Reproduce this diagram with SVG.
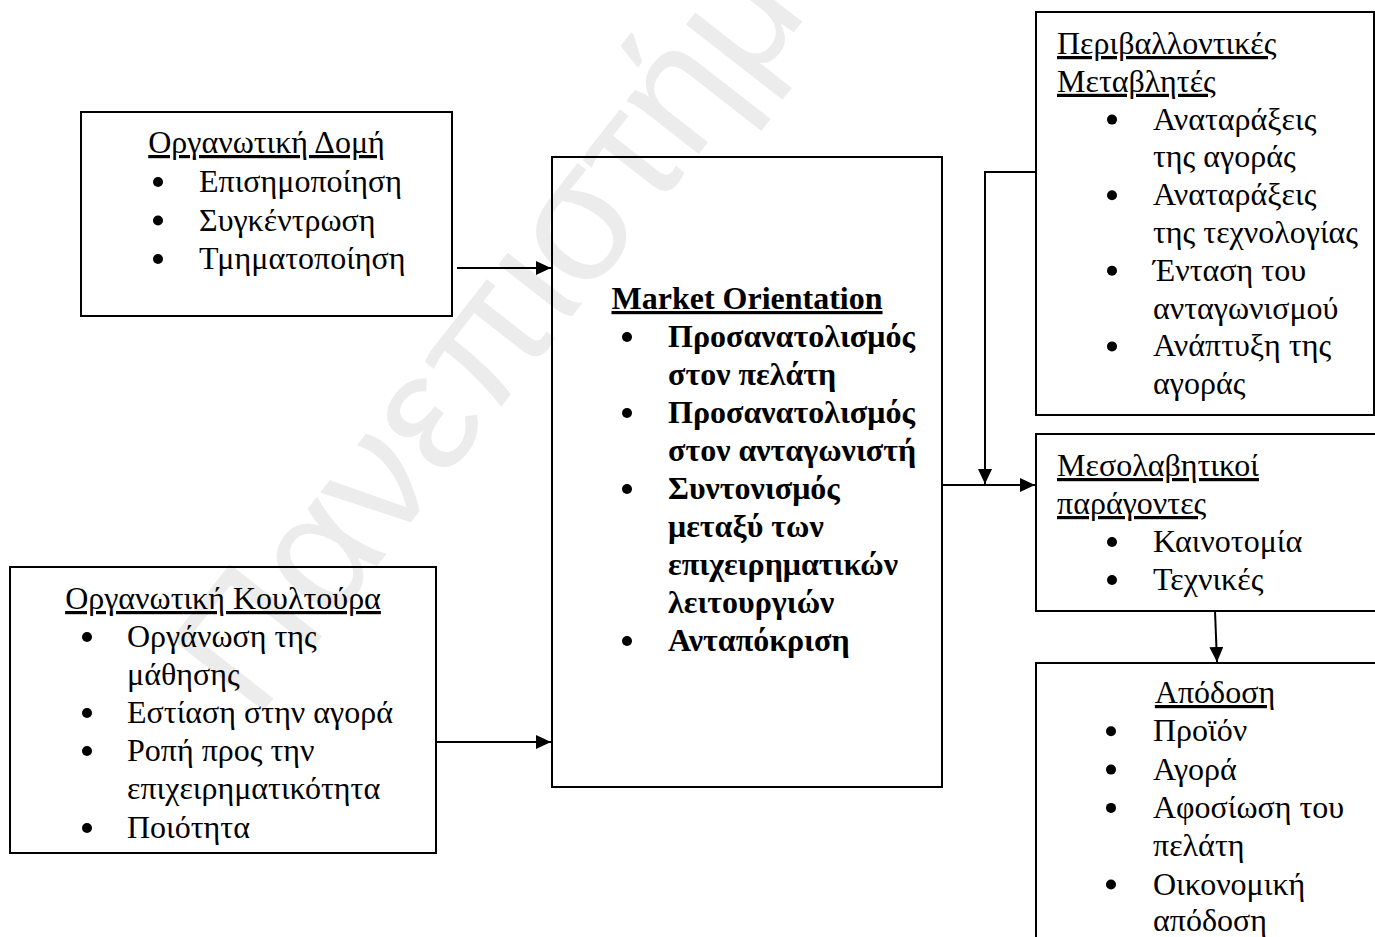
<svg xmlns="http://www.w3.org/2000/svg" width="1375" height="937" viewBox="0 0 1375 937">
<defs>
<marker id="arr" markerUnits="userSpaceOnUse" markerWidth="15" markerHeight="14" refX="15" refY="7" orient="auto">
<path d="M0,0 L15,7 L0,14 Z" fill="#000"/>
</marker>
<style>
.box{fill:none;stroke:#000;stroke-width:2}
.t{font-family:"Liberation Serif","Times New Roman",serif;font-size:32px;fill:#000}
.b{font-weight:bold}
.u{text-decoration:underline}
.m{text-anchor:middle}
.dot{fill:#000}
.c{fill:none;stroke:#000;stroke-width:2}
.wm{font-family:"Liberation Sans",Arial,sans-serif;font-size:170px;fill:#ececec}
</style>
</defs>
<rect width="1375" height="937" fill="#fff"/>
<g id="watermark">
<text class="wm" x="255" y="722" transform="rotate(-52 255 722)">Πανεπιστήμιο</text>
</g>

<g id="org-structure">
<rect class="box" x="81" y="112" width="371" height="204"/>
<text class="t u m" x="266.5" y="153">Οργανωτική Δομή</text>
<circle class="dot" cx="158" cy="182" r="5"/><text class="t" x="199" y="192">Επισημοποίηση</text>
<circle class="dot" cx="158" cy="220.5" r="5"/><text class="t" x="199" y="230.5">Συγκέντρωση</text>
<circle class="dot" cx="158" cy="259" r="5"/><text class="t" x="199" y="269">Τμηματοποίηση</text>
</g>

<g id="org-culture">
<rect class="box" x="10" y="567" width="426" height="286"/>
<text class="t u m" x="223" y="609">Οργανωτική Κουλτούρα</text>
<circle class="dot" cx="87" cy="637" r="5"/><text class="t" x="127" y="647">Οργάνωση της</text>
<text class="t" x="127" y="685">μάθησης</text>
<circle class="dot" cx="87" cy="713" r="5"/><text class="t" x="127" y="723">Εστίαση στην αγορά</text>
<circle class="dot" cx="87" cy="751" r="5"/><text class="t" x="127" y="761">Ροπή προς την</text>
<text class="t" x="127" y="799">επιχειρηματικότητα</text>
<circle class="dot" cx="87" cy="828" r="5"/><text class="t" x="127" y="838">Ποιότητα</text>
</g>

<g id="market-orientation">
<rect class="box" x="552" y="157" width="390" height="630"/>
<text class="t b u m" x="747" y="309">Market Orientation</text>
<circle class="dot" cx="627" cy="337" r="5"/><text class="t b" x="668" y="347">Προσανατολισμός</text>
<text class="t b" x="668" y="385">στον πελάτη</text>
<circle class="dot" cx="627" cy="413" r="5"/><text class="t b" x="668" y="423">Προσανατολισμός</text>
<text class="t b" x="668" y="461">στον ανταγωνιστή</text>
<circle class="dot" cx="627" cy="489" r="5"/><text class="t b" x="668" y="499">Συντονισμός</text>
<text class="t b" x="668" y="537">μεταξύ των</text>
<text class="t b" x="668" y="575">επιχειρηματικών</text>
<text class="t b" x="668" y="613">λειτουργιών</text>
<circle class="dot" cx="627" cy="641" r="5"/><text class="t b" x="668" y="651">Ανταπόκριση</text>
</g>

<g id="environment">
<rect class="box" x="1036" y="12" width="338" height="403"/>
<text class="t u" x="1057" y="54">Περιβαλλοντικές</text>
<text class="t u" x="1057" y="91.8">Μεταβλητές</text>
<circle class="dot" cx="1112" cy="119.6" r="5"/><text class="t" x="1153" y="129.6">Αναταράξεις</text>
<text class="t" x="1153" y="167.4">της αγοράς</text>
<circle class="dot" cx="1112" cy="195.2" r="5"/><text class="t" x="1153" y="205.2">Αναταράξεις</text>
<text class="t" x="1153" y="243">της τεχνολογίας</text>
<circle class="dot" cx="1112" cy="270.8" r="5"/><text class="t" x="1153" y="280.8">Ένταση του</text>
<text class="t" x="1153" y="318.6">ανταγωνισμού</text>
<circle class="dot" cx="1112" cy="346.4" r="5"/><text class="t" x="1153" y="356.4">Ανάπτυξη της</text>
<text class="t" x="1153" y="394.2">αγοράς</text>
</g>

<g id="mediators">
<rect class="box" x="1036" y="434" width="345" height="177"/>
<text class="t u" x="1057" y="476">Μεσολαβητικοί</text>
<text class="t u" x="1057" y="514">παράγοντες</text>
<circle class="dot" cx="1112" cy="542" r="5"/><text class="t" x="1153" y="552">Καινοτομία</text>
<circle class="dot" cx="1112" cy="580" r="5"/><text class="t" x="1153" y="590">Τεχνικές</text>
</g>

<g id="performance">
<rect class="box" x="1036" y="663" width="345" height="290"/>
<text class="t u m" x="1215" y="703">Απόδοση</text>
<circle class="dot" cx="1111" cy="731.3" r="5"/><text class="t" x="1153" y="741.3">Προϊόν</text>
<circle class="dot" cx="1111" cy="769.6" r="5"/><text class="t" x="1153" y="779.6">Αγορά</text>
<circle class="dot" cx="1111" cy="807.9" r="5"/><text class="t" x="1153" y="817.9">Αφοσίωση του</text>
<text class="t" x="1153" y="856.2">πελάτη</text>
<circle class="dot" cx="1111" cy="884.5" r="5"/><text class="t" x="1153" y="894.5">Οικονομική</text>
<text class="t" x="1153" y="931">απόδοση</text>
</g>

<g id="connectors">
<path class="c" d="M457,268 H551" marker-end="url(#arr)"/>
<path class="c" d="M436,742 H551" marker-end="url(#arr)"/>
<path class="c" d="M942,485 H1035" marker-end="url(#arr)"/>
<path class="c" d="M1036,172 H985 V484" marker-end="url(#arr)"/>
<path class="c" d="M1215,611 L1217,662" marker-end="url(#arr)"/>
</g>
</svg>
